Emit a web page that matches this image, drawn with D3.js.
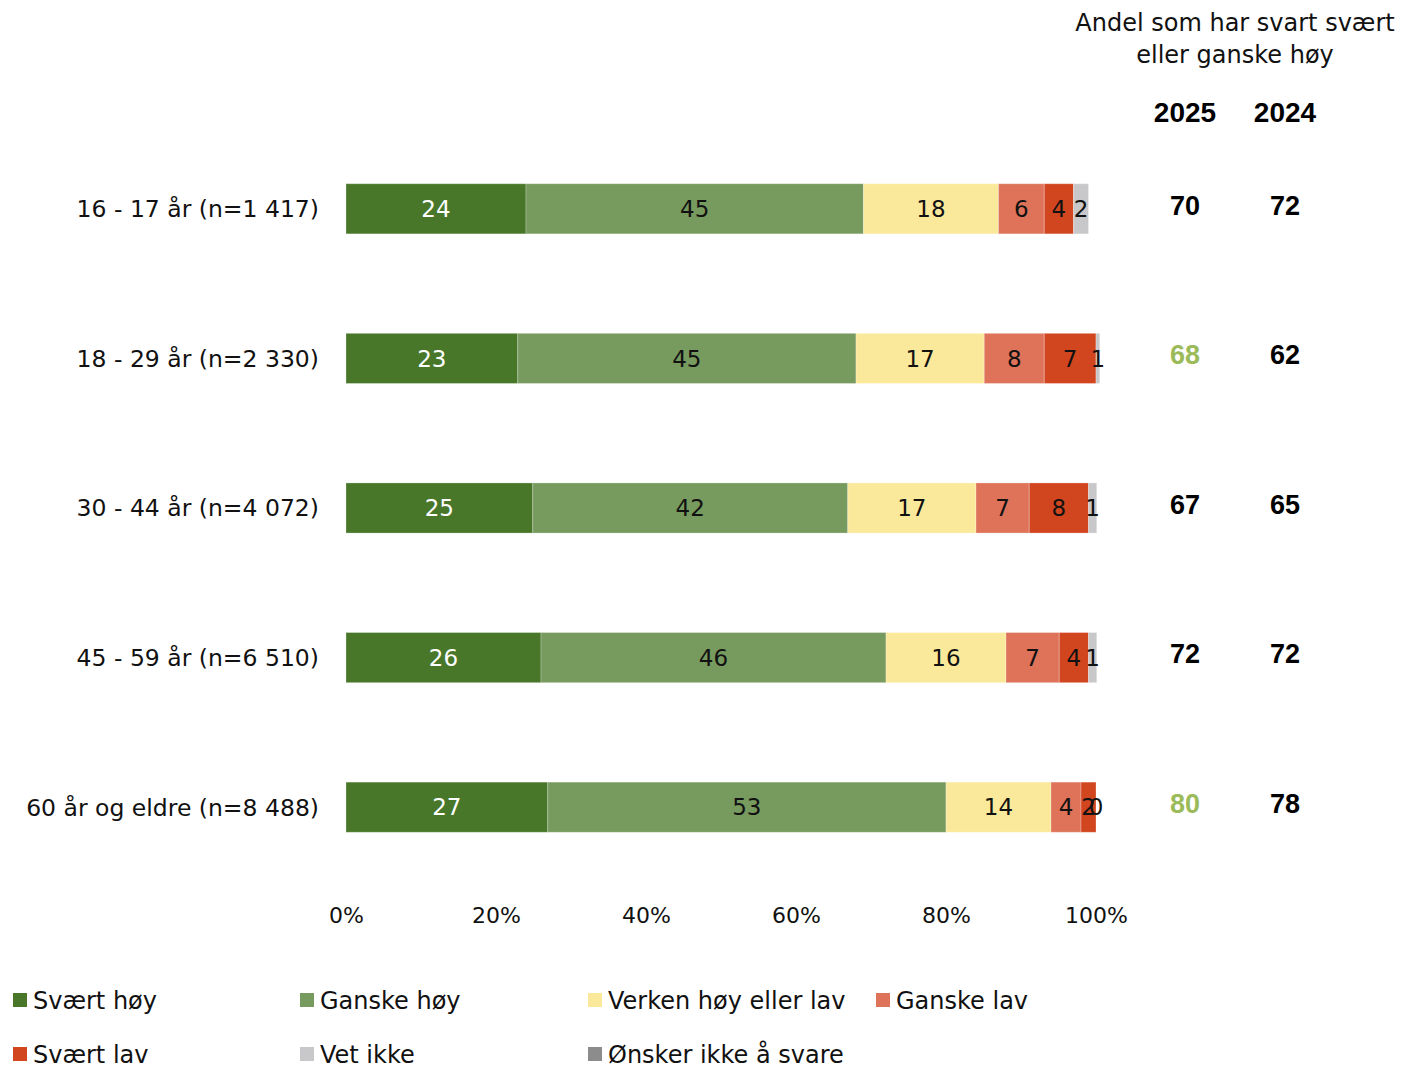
<!DOCTYPE html>
<html><head><meta charset="utf-8">
<script src="https://cdn.jsdelivr.net/npm/d3@7"></script>
<style>body{margin:0;background:#fff}</style>
</head><body>
<svg id="chart" width="1407" height="1069"></svg>
<script>
const categories = ["16 - 17 år (n=1 417)","18 - 29 år (n=2 330)","30 - 44 år (n=4 072)","45 - 59 år (n=6 510)","60 år og eldre (n=8 488)"];
const seriesNames = ["Svært høy","Ganske høy","Verken høy eller lav","Ganske lav","Svært lav","Vet ikke","Ønsker ikke å svare"];
const svaertHoy   = [24.0, 22.9, 24.9, 26.0, 26.9];
const ganskeHoy   = [45.0, 45.1, 42.0, 46.0, 53.1];
const verken      = [18.0, 17.1, 17.1, 16.0, 14.0];
const ganskeLav   = [6.1, 8.0, 7.1, 7.1, 4.0];
const svaertLav   = [3.9, 6.9, 7.9, 3.9, 2.0];
const vetIkke     = [2.0, 0.5, 1.1, 1.1, 0.0];
const onskerIkke  = [0, 0, 0, 0, 0];
const andel2025   = [70, 68, 67, 72, 80];
const andel2024   = [72, 62, 65, 72, 78];
const highlight2025 = [false, true, false, false, true];
const tickValues  = [0, 20, 40, 60, 80, 100];
const tickLabels  = ["0%","20%","40%","60%","80%","100%"];

const colors = ["#48772a","#779a5f","#fbe99b","#de735a","#d2461f","#c8c8ca","#8c8c8c"];
const labelColors = ["#fff","#111","#111","#111","#111","#111","#111"];
const series = [svaertHoy, ganskeHoy, verken, ganskeLav, svaertLav, vetIkke, onskerIkke];
const showLabel = [true,true,true,true,true,true,false];

const FONT = "'DejaVu Sans', sans-serif";
const svg = d3.select("#chart");

const x = d3.scaleLinear().domain([0,100]).range([346,1096]);
const y = d3.scaleBand().domain(categories).range([134, 882]).paddingInner(0.665).paddingOuter(0.3325);

const rows = categories.map((c,i)=>{
  let acc = 0;
  return series.map((s,k)=>{ const seg={cat:c,k,v:s[i],x0:acc,x1:acc+s[i]}; acc+=s[i]; return seg; });
});

const g = svg.append("g");
rows.forEach(row=>{
  g.selectAll(null).data(row.filter(d=>d.v>0)).enter().append("rect")
    .attr("x",d=>x(d.x0)).attr("y",d=>y(d.cat))
    .attr("width",d=>x(d.x1)-x(d.x0)).attr("height",y.bandwidth())
    .attr("fill",d=>colors[d.k])
    .attr("stroke","rgba(255,255,255,0.25)").attr("stroke-width",1);
  g.selectAll(null).data(row.filter(d=>showLabel[d.k])).enter().append("text")
    .attr("x",d=>(x(d.x0)+x(d.x1))/2).attr("y",d=>y(d.cat)+y.bandwidth()/2)
    .attr("dy","0.36em").attr("text-anchor","middle")
    .attr("font-family",FONT).attr("font-size",23)
    .attr("fill",d=>labelColors[d.k])
    .text(d=>Math.round(d.v));
});

// category labels
svg.append("g").selectAll("text").data(categories).enter().append("text")
  .attr("x",319).attr("y",d=>y(d)+y.bandwidth()/2).attr("dy","0.36em")
  .attr("text-anchor","end").attr("font-family",FONT).attr("font-size",23.5)
  .attr("fill","#111").text(d=>d);

// x axis
const xAxis = svg.append("g").attr("transform","translate(0,908)")
  .call(d3.axisBottom(x).tickValues(tickValues).tickFormat((d,i)=>tickLabels[i]).tickSize(0));
xAxis.select(".domain").remove();
xAxis.selectAll("text").attr("font-family",FONT).attr("font-size",22).attr("fill","#111").attr("dy","0.55em");

// right columns
svg.append("text").attr("x",1235).attr("y",31).attr("text-anchor","middle")
  .attr("font-family",FONT).attr("font-size",24).attr("fill","#111").text("Andel som har svart svært");
svg.append("text").attr("x",1235).attr("y",63).attr("text-anchor","middle")
  .attr("font-family",FONT).attr("font-size",24).attr("fill","#111").text("eller ganske høy");
const colX = [1185, 1285];
["2025","2024"].forEach((t,i)=>svg.append("text").attr("x",colX[i]).attr("y",122)
  .attr("text-anchor","middle").attr("font-family","'Liberation Sans', Arial, sans-serif")
  .attr("font-weight","bold").attr("font-size",28).attr("fill","#000").text(t));
const cols = svg.append("g");
cols.selectAll(".a25").data(categories).enter().append("text")
  .attr("x",colX[0]).attr("y",(d)=>y(d)+y.bandwidth()/2 - 4).attr("dy","0.36em")
  .attr("text-anchor","middle").attr("font-family","'Liberation Sans', Arial, sans-serif")
  .attr("font-weight","bold").attr("font-size",27)
  .attr("fill",(d,i)=>highlight2025[i]?"#9bbb59":"#000").text((d,i)=>andel2025[i]);
cols.selectAll(".a24").data(categories).enter().append("text")
  .attr("x",colX[1]).attr("y",(d)=>y(d)+y.bandwidth()/2 - 4).attr("dy","0.36em")
  .attr("text-anchor","middle").attr("font-family","'Liberation Sans', Arial, sans-serif")
  .attr("font-weight","bold").attr("font-size",27)
  .attr("fill","#000").text((d,i)=>andel2024[i]);

// legend
const legPos = [[13,1000],[300,1000],[588,1000],[876,1000],[13,1054],[300,1054],[588,1054]];
const leg = svg.append("g").selectAll("g").data(seriesNames).enter().append("g")
  .attr("transform",(d,i)=>`translate(${legPos[i][0]},${legPos[i][1]})`);
leg.append("rect").attr("x",0).attr("y",-7).attr("width",14).attr("height",14).attr("fill",(d,i)=>colors[i]);
leg.append("text").attr("x",20).attr("y",0).attr("dy","0.36em")
  .attr("font-family",FONT).attr("font-size",24).attr("fill","#111").text(d=>d);
</script>
</body></html>
